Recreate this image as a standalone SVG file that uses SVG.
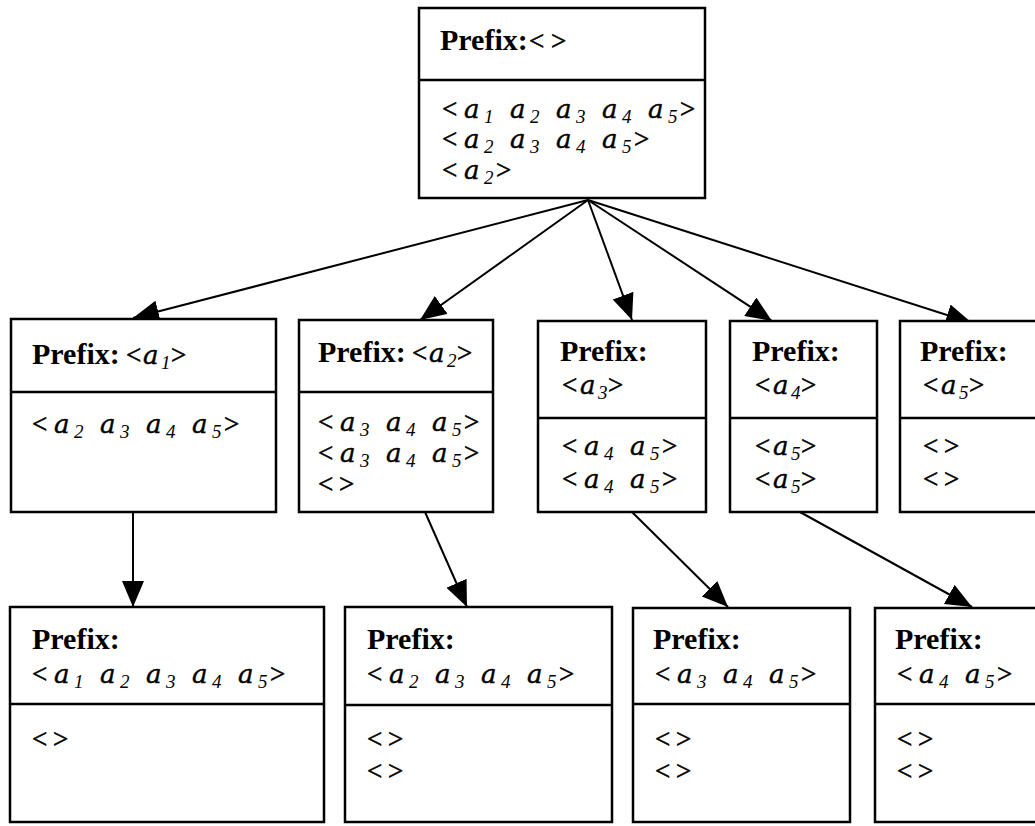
<svg xmlns="http://www.w3.org/2000/svg" width="1035" height="826" viewBox="0 0 1035 826">
  <style>
    .box { fill: #fff; stroke: #000; stroke-width: 2.5; }
    .div { stroke: #000; stroke-width: 2.5; }
    .edge { stroke: #000; stroke-width: 2; fill: none; marker-end: url(#arrow); }
    text { font-family: "Liberation Serif", "Times New Roman", serif; fill: #000; }
    .pf { font-weight: bold; font-size: 30px; }
    .br { font-size: 27px; stroke: #000; stroke-width: 0.6; }
    .a { font-family: "DejaVu Serif", "Liberation Serif", serif; font-style: italic; font-size: 26px; stroke: #000; stroke-width: 0.4; }
    .n { font-style: italic; font-size: 19px; }
  </style>
  <defs>
    <marker id="arrow" markerUnits="userSpaceOnUse" markerWidth="28" markerHeight="24" refX="26" refY="11" orient="auto">
      <path d="M0,0 L26,11 L0,22 z" fill="#000"/>
    </marker>
  </defs>

  <rect width="1035" height="826" fill="#fff"/>

  <!-- connectors -->
  <g id="edges">
    <line class="edge" x1="588" y1="200" x2="133" y2="318"/>
    <line class="edge" x1="588" y1="200" x2="420" y2="320"/>
    <line class="edge" x1="588" y1="200" x2="632" y2="320"/>
    <line class="edge" x1="588" y1="200" x2="772" y2="321"/>
    <line class="edge" x1="588" y1="200" x2="972" y2="323"/>
    <line class="edge" x1="133" y1="512" x2="133" y2="607"/>
    <line class="edge" x1="425" y1="512" x2="467" y2="607"/>
    <line class="edge" x1="632" y1="512" x2="728" y2="607"/>
    <line class="edge" x1="800" y1="512" x2="972" y2="607"/>
  </g>

  <!-- root -->
  <g id="root">
    <rect class="box" x="419" y="8" width="286" height="190"/>
    <line class="div" x1="419" y1="80" x2="705" y2="80"/>
    <text y="50"><tspan class="pf" x="440">Prefix:</tspan><tspan class="br" x="529">&lt;</tspan><tspan class="br" x="551">&gt;</tspan></text>
    <text y="118"><tspan class="br" x="442">&lt;</tspan><tspan class="a" x="464">a</tspan><tspan class="n" x="484" y="123">1</tspan><tspan class="a" x="510" y="118">a</tspan><tspan class="n" x="530" y="123">2</tspan><tspan class="a" x="556" y="118">a</tspan><tspan class="n" x="576" y="123">3</tspan><tspan class="a" x="602" y="118">a</tspan><tspan class="n" x="622" y="123">4</tspan><tspan class="a" x="648" y="118">a</tspan><tspan class="n" x="668" y="123">5</tspan><tspan class="br" x="680" y="118">&gt;</tspan></text>
    <text y="148"><tspan class="br" x="442">&lt;</tspan><tspan class="a" x="464">a</tspan><tspan class="n" x="484" y="153">2</tspan><tspan class="a" x="510" y="148">a</tspan><tspan class="n" x="530" y="153">3</tspan><tspan class="a" x="556" y="148">a</tspan><tspan class="n" x="576" y="153">4</tspan><tspan class="a" x="602" y="148">a</tspan><tspan class="n" x="622" y="153">5</tspan><tspan class="br" x="634" y="148">&gt;</tspan></text>
    <text y="179"><tspan class="br" x="442">&lt;</tspan><tspan class="a" x="464">a</tspan><tspan class="n" x="484" y="184">2</tspan><tspan class="br" x="496" y="179">&gt;</tspan></text>
  </g>

  <!-- level 1 -->
  <g id="n_a1">
    <rect class="box" x="11" y="319" width="265" height="193"/>
    <line class="div" x1="11" y1="392" x2="276" y2="392"/>
    <text y="364"><tspan class="pf" x="32">Prefix:</tspan><tspan class="br" x="126">&lt;</tspan><tspan class="a" x="143">a</tspan><tspan class="n" x="161" y="369">1</tspan><tspan class="br" x="171" y="364">&gt;</tspan></text>
    <text y="433"><tspan class="br" x="32">&lt;</tspan><tspan class="a" x="54">a</tspan><tspan class="n" x="74" y="438">2</tspan><tspan class="a" x="100" y="433">a</tspan><tspan class="n" x="120" y="438">3</tspan><tspan class="a" x="146" y="433">a</tspan><tspan class="n" x="166" y="438">4</tspan><tspan class="a" x="192" y="433">a</tspan><tspan class="n" x="212" y="438">5</tspan><tspan class="br" x="224" y="433">&gt;</tspan></text>
  </g>

  <g id="n_a2">
    <rect class="box" x="299" y="320" width="194" height="192"/>
    <line class="div" x1="299" y1="392" x2="493" y2="392"/>
    <text y="362"><tspan class="pf" x="318">Prefix:</tspan><tspan class="br" x="412">&lt;</tspan><tspan class="a" x="429">a</tspan><tspan class="n" x="447" y="367">2</tspan><tspan class="br" x="457" y="362">&gt;</tspan></text>
    <text y="431"><tspan class="br" x="318">&lt;</tspan><tspan class="a" x="340">a</tspan><tspan class="n" x="360" y="436">3</tspan><tspan class="a" x="386" y="431">a</tspan><tspan class="n" x="406" y="436">4</tspan><tspan class="a" x="432" y="431">a</tspan><tspan class="n" x="452" y="436">5</tspan><tspan class="br" x="464" y="431">&gt;</tspan></text>
    <text y="462"><tspan class="br" x="318">&lt;</tspan><tspan class="a" x="340">a</tspan><tspan class="n" x="360" y="467">3</tspan><tspan class="a" x="386" y="462">a</tspan><tspan class="n" x="406" y="467">4</tspan><tspan class="a" x="432" y="462">a</tspan><tspan class="n" x="452" y="467">5</tspan><tspan class="br" x="464" y="462">&gt;</tspan></text>
    <text y="493"><tspan class="br" x="318">&lt;</tspan><tspan class="br" x="339">&gt;</tspan></text>
  </g>

  <g id="n_a3">
    <rect class="box" x="538" y="321" width="168" height="191"/>
    <line class="div" x1="538" y1="418" x2="706" y2="418"/>
    <text class="pf" x="560" y="361">Prefix:</text>
    <text y="394"><tspan class="br" x="562">&lt;</tspan><tspan class="a" x="580">a</tspan><tspan class="n" x="598" y="399">3</tspan><tspan class="br" x="608" y="394">&gt;</tspan></text>
    <text y="455"><tspan class="br" x="562">&lt;</tspan><tspan class="a" x="584">a</tspan><tspan class="n" x="604" y="460">4</tspan><tspan class="a" x="630" y="455">a</tspan><tspan class="n" x="650" y="460">5</tspan><tspan class="br" x="662" y="455">&gt;</tspan></text>
    <text y="488"><tspan class="br" x="562">&lt;</tspan><tspan class="a" x="584">a</tspan><tspan class="n" x="604" y="493">4</tspan><tspan class="a" x="630" y="488">a</tspan><tspan class="n" x="650" y="493">5</tspan><tspan class="br" x="662" y="488">&gt;</tspan></text>
  </g>

  <g id="n_a4">
    <rect class="box" x="730" y="321" width="147" height="191"/>
    <line class="div" x1="730" y1="418" x2="877" y2="418"/>
    <text class="pf" x="752" y="361">Prefix:</text>
    <text y="394"><tspan class="br" x="755">&lt;</tspan><tspan class="a" x="773">a</tspan><tspan class="n" x="791" y="399">4</tspan><tspan class="br" x="801" y="394">&gt;</tspan></text>
    <text y="455"><tspan class="br" x="755">&lt;</tspan><tspan class="a" x="773">a</tspan><tspan class="n" x="791" y="460">5</tspan><tspan class="br" x="801" y="455">&gt;</tspan></text>
    <text y="488"><tspan class="br" x="755">&lt;</tspan><tspan class="a" x="773">a</tspan><tspan class="n" x="791" y="493">5</tspan><tspan class="br" x="801" y="488">&gt;</tspan></text>
  </g>

  <g id="n_a5">
    <rect class="box" x="900" y="321" width="150" height="191"/>
    <line class="div" x1="900" y1="418" x2="1035" y2="418"/>
    <text class="pf" x="920" y="361">Prefix:</text>
    <text y="394"><tspan class="br" x="923">&lt;</tspan><tspan class="a" x="941">a</tspan><tspan class="n" x="959" y="399">5</tspan><tspan class="br" x="969" y="394">&gt;</tspan></text>
    <text y="455"><tspan class="br" x="923">&lt;</tspan><tspan class="br" x="944">&gt;</tspan></text>
    <text y="488"><tspan class="br" x="923">&lt;</tspan><tspan class="br" x="944">&gt;</tspan></text>
  </g>

  <!-- level 2 -->
  <g id="n_a1a2a3a4a5">
    <rect class="box" x="10" y="607" width="314" height="215"/>
    <line class="div" x1="10" y1="704" x2="324" y2="704"/>
    <text class="pf" x="32" y="649">Prefix:</text>
    <text y="683"><tspan class="br" x="32">&lt;</tspan><tspan class="a" x="54">a</tspan><tspan class="n" x="74" y="688">1</tspan><tspan class="a" x="100" y="683">a</tspan><tspan class="n" x="120" y="688">2</tspan><tspan class="a" x="146" y="683">a</tspan><tspan class="n" x="166" y="688">3</tspan><tspan class="a" x="192" y="683">a</tspan><tspan class="n" x="212" y="688">4</tspan><tspan class="a" x="238" y="683">a</tspan><tspan class="n" x="258" y="688">5</tspan><tspan class="br" x="270" y="683">&gt;</tspan></text>
    <text y="748"><tspan class="br" x="32">&lt;</tspan><tspan class="br" x="53">&gt;</tspan></text>
  </g>

  <g id="n_a2a3a4a5">
    <rect class="box" x="345" y="607" width="267" height="215"/>
    <line class="div" x1="345" y1="705" x2="612" y2="705"/>
    <text class="pf" x="367" y="649">Prefix:</text>
    <text y="683"><tspan class="br" x="367">&lt;</tspan><tspan class="a" x="389">a</tspan><tspan class="n" x="409" y="688">2</tspan><tspan class="a" x="435" y="683">a</tspan><tspan class="n" x="455" y="688">3</tspan><tspan class="a" x="481" y="683">a</tspan><tspan class="n" x="501" y="688">4</tspan><tspan class="a" x="527" y="683">a</tspan><tspan class="n" x="547" y="688">5</tspan><tspan class="br" x="559" y="683">&gt;</tspan></text>
    <text y="748"><tspan class="br" x="367">&lt;</tspan><tspan class="br" x="388">&gt;</tspan></text>
    <text y="780"><tspan class="br" x="367">&lt;</tspan><tspan class="br" x="388">&gt;</tspan></text>
  </g>

  <g id="n_a3a4a5">
    <rect class="box" x="633" y="608" width="217" height="214"/>
    <line class="div" x1="633" y1="704" x2="850" y2="704"/>
    <text class="pf" x="653" y="649">Prefix:</text>
    <text y="683"><tspan class="br" x="655">&lt;</tspan><tspan class="a" x="677">a</tspan><tspan class="n" x="697" y="688">3</tspan><tspan class="a" x="723" y="683">a</tspan><tspan class="n" x="743" y="688">4</tspan><tspan class="a" x="769" y="683">a</tspan><tspan class="n" x="789" y="688">5</tspan><tspan class="br" x="801" y="683">&gt;</tspan></text>
    <text y="748"><tspan class="br" x="655">&lt;</tspan><tspan class="br" x="676">&gt;</tspan></text>
    <text y="780"><tspan class="br" x="655">&lt;</tspan><tspan class="br" x="676">&gt;</tspan></text>
  </g>

  <g id="n_a4a5">
    <rect class="box" x="875" y="608" width="175" height="214"/>
    <line class="div" x1="875" y1="704" x2="1035" y2="704"/>
    <text class="pf" x="895" y="649">Prefix:</text>
    <text y="683"><tspan class="br" x="897">&lt;</tspan><tspan class="a" x="919">a</tspan><tspan class="n" x="939" y="688">4</tspan><tspan class="a" x="965" y="683">a</tspan><tspan class="n" x="985" y="688">5</tspan><tspan class="br" x="997" y="683">&gt;</tspan></text>
    <text y="748"><tspan class="br" x="897">&lt;</tspan><tspan class="br" x="918">&gt;</tspan></text>
    <text y="780"><tspan class="br" x="897">&lt;</tspan><tspan class="br" x="918">&gt;</tspan></text>
  </g>
</svg>
